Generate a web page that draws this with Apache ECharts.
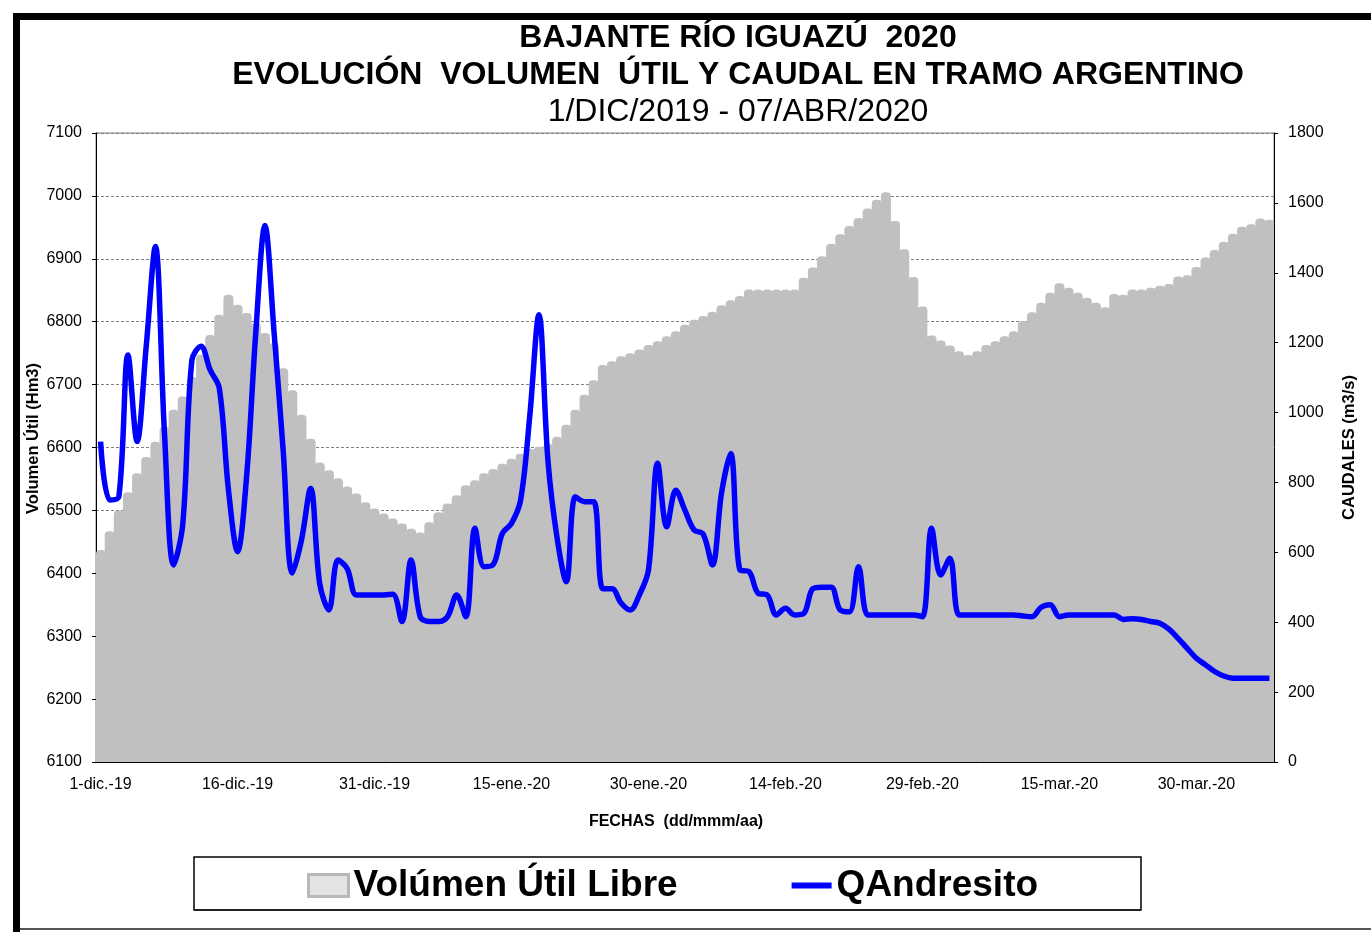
<!DOCTYPE html>
<html>
<head>
<meta charset="utf-8">
<title>Bajante Río Iguazú 2020</title>
<script src="https://cdn.jsdelivr.net/npm/echarts@6/dist/echarts.min.js"></script>
<style>
  html, body { margin: 0; padding: 0; background: #fff; }
  #chart { width: 1371px; height: 932px; }
</style>
</head>
<body>
<div id="chart"></div>
<script>
// serie diaria 1-dic-2019 .. 7-abr-2020 (129 días)
const startDate = [2019, 11, 1]
const meses = ['ene', 'feb', 'mar', 'abr', 'may', 'jun', 'jul', 'ago', 'sep', 'oct', 'nov', 'dic']

// Volúmen Útil Libre (Hm3)
const volumen = [
  6437, 6467, 6500, 6529, 6559, 6585, 6609, 6633, 6660, 6681,
  6712, 6748, 6779, 6811, 6843, 6827, 6814, 6798, 6782, 6766,
  6726, 6691, 6652, 6614, 6576, 6564, 6551, 6538, 6527, 6513,
  6503, 6495, 6487, 6479, 6471, 6465, 6481, 6497, 6511, 6524,
  6540, 6548, 6559, 6566, 6574, 6582, 6590, 6598, 6601, 6606,
  6617, 6636, 6660, 6684, 6707, 6731, 6737, 6745, 6750, 6756,
  6763, 6769, 6777, 6785, 6795, 6803, 6809, 6816, 6826, 6834,
  6841, 6851, 6851, 6851, 6851, 6851, 6851, 6870, 6886, 6904,
  6924, 6939, 6952, 6965, 6980, 6994, 7006, 6960, 6915, 6871,
  6824, 6778, 6770, 6762, 6753, 6747, 6753, 6763, 6769, 6777,
  6785, 6801, 6815, 6830, 6846, 6861, 6854, 6846, 6838, 6830,
  6823, 6844, 6843, 6851, 6851, 6854, 6857, 6860, 6872, 6874,
  6887, 6902, 6914, 6927, 6940, 6951, 6955, 6964, 6962
]

// QAndresito (m3/s)
const caudal = [
  917, 750, 759, 1165, 917, 1190, 1475, 940, 564, 680,
  1150, 1190, 1122, 1070, 780, 602, 820, 1230, 1535, 1230,
  890, 541, 635, 783, 510, 435, 578, 554, 478, 478,
  478, 478, 480, 402, 578, 416, 402, 402, 416, 478,
  416, 669, 559, 565, 654, 683, 750, 990, 1280, 860,
  640, 516, 759, 745, 745, 496, 496, 455, 435, 478,
  550, 855, 673, 778, 720, 664, 652, 564, 770, 883,
  550, 545, 483, 478, 421, 440, 421, 425, 496, 500,
  500, 435, 430, 559, 421, 421, 421, 421, 421, 421,
  416, 669, 535, 583, 421, 421, 421, 421, 421, 421,
  421, 418, 416, 443, 450, 416, 421, 421, 421, 421,
  421, 421, 408, 410, 408, 402, 397, 380, 354, 325,
  297, 278, 259, 246, 240, 240, 240, 240, 240
]

const fechas = volumen.map((v, i) => {
  const d = new Date(startDate[0], startDate[1], startDate[2] + i)
  return d.getDate() + '-' + meses[d.getMonth()] + '.-' + String(d.getFullYear()).slice(2)
})

const font = '"Liberation Sans", Arial, sans-serif'
const plain = v => String(v)
const chart = echarts.init(document.getElementById('chart'))

chart.setOption({
  animation: false,
  backgroundColor: '#fff',
  textStyle: { fontFamily: font, color: '#000' },
  title: [
    { text: 'BAJANTE RÍO IGUAZÚ  2020', left: 738, top: 22, padding: 0, textAlign: 'center',
      textStyle: { fontFamily: font, fontSize: 32, fontWeight: 'bold', color: '#000' } },
    { text: 'EVOLUCIÓN  VOLUMEN  ÚTIL Y CAUDAL EN TRAMO ARGENTINO', left: 738, top: 59, padding: 0, textAlign: 'center',
      textStyle: { fontFamily: font, fontSize: 32, fontWeight: 'bold', color: '#000' } },
    { text: '1/DIC/2019 - 07/ABR/2020', left: 738, top: 96, padding: 0, textAlign: 'center',
      textStyle: { fontFamily: font, fontSize: 32, fontWeight: 'normal', color: '#000' } }
  ],
  legend: {
    left: 307,
    top: 867,
    padding: 0,
    itemWidth: 40,
    itemHeight: 22,
    itemGap: 111,
    textStyle: { fontFamily: font, fontSize: 37, fontWeight: 'bold', color: '#000' },
    data: [
      { name: 'Volúmen Útil Libre', icon: 'rect',
        itemStyle: { color: '#e4e4e4', borderColor: '#b8b8b8', borderWidth: 3 } },
      { name: 'QAndresito',
        itemStyle: { color: 'rgba(0,0,0,0)', borderWidth: 0 },
        lineStyle: { color: '#0000ff', width: 6 } }
    ]
  },
  grid: {
    left: 96, right: 97, top: 133, bottom: 170,
    show: true, borderColor: '#808080', borderWidth: 1, backgroundColor: '#fff'
  },
  xAxis: {
    type: 'category',
    data: fechas,
    boundaryGap: true,
    axisLine: { lineStyle: { color: '#000', width: 1 } },
    axisTick: { interval: 14, length: 5, lineStyle: { color: '#000' } },
    axisLabel: { interval: 14, fontSize: 16, color: '#000', margin: 15, fontFamily: font },
    name: 'FECHAS  (dd/mmm/aa)',
    nameLocation: 'middle',
    nameGap: 52,
    nameTextStyle: { fontSize: 16, fontWeight: 'bold', color: '#000', fontFamily: font, padding: [0, 18, 0, 0] }
  },
  yAxis: [
    {
      type: 'value',
      min: 6100, max: 7100, interval: 100,
      axisLine: { show: true, lineStyle: { color: '#000' } },
      axisTick: { show: true, length: 4, lineStyle: { color: '#000' } },
      axisLabel: { fontSize: 16, color: '#000', margin: 14, fontFamily: font, formatter: plain },
      splitLine: { show: true, lineStyle: { color: '#808080', type: [3, 2], width: 1 } },
      name: 'Volumen Útil (Hm3)',
      nameLocation: 'middle',
      nameRotate: 90,
      nameGap: 54,
      nameMoveOverlap: false,
      nameTextStyle: { fontSize: 16.5, fontWeight: 'bold', color: '#000', fontFamily: font, padding: [0, 0, 0, 18] }
    },
    {
      type: 'value',
      position: 'right',
      min: 0, max: 1800, interval: 200,
      axisLine: { show: true, lineStyle: { color: '#000' } },
      axisTick: { show: true, length: 4, lineStyle: { color: '#000' } },
      axisLabel: { fontSize: 16, color: '#000', margin: 14, fontFamily: font, formatter: plain },
      splitLine: { show: false },
      name: 'CAUDALES (m3/s)',
      nameLocation: 'middle',
      nameRotate: 90,
      nameGap: 67,
      nameTextStyle: { fontSize: 16.5, fontWeight: 'bold', color: '#000', fontFamily: font }
    }
  ],
  series: [
    {
      name: 'Volúmen Útil Libre',
      type: 'bar',
      yAxisIndex: 0,
      data: volumen,
      barWidth: 10,
      itemStyle: { color: '#c0c0c0', borderRadius: [4, 4, 0, 0] },
      z: 2
    },
    {
      name: 'QAndresito',
      type: 'line',
      yAxisIndex: 1,
      data: caudal,
      smooth: 0.35,
      symbol: 'none',
      lineStyle: { color: '#0000ff', width: 5.5 },
      itemStyle: { color: '#0000ff' },
      z: 3
    }
  ],
  graphic: [
    { type: 'rect', shape: { x: 13, y: 13, width: 1360, height: 7 }, style: { fill: '#000' } },
    { type: 'rect', shape: { x: 13, y: 13, width: 7, height: 922 }, style: { fill: '#000' } },
    { type: 'rect', shape: { x: 20, y: 928, width: 1351, height: 2 }, style: { fill: '#555' } },
    { type: 'rect', shape: { x: 194, y: 857, width: 947, height: 53 },
      style: { fill: 'none', stroke: '#000', lineWidth: 1.5 } },
    { type: 'rect', shape: { x: 194, y: 909, width: 947, height: 2 }, style: { fill: '#222' } }
  ]
})
</script>
</body>
</html>
